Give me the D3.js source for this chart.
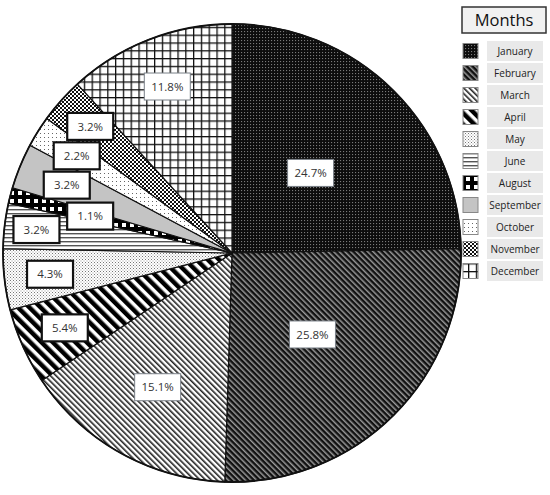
<!DOCTYPE html>
<html>
<head>
<meta charset="utf-8">
<script src="https://cdn.jsdelivr.net/npm/d3@7"></script>
<style>
  html, body { margin: 0; padding: 0; background: #fff; }
  svg { display: block; }
</style>
</head>
<body>
<svg id="chart" width="550" height="495"></svg>
<script>
// ---- data ----
const months = ["January","February","March","April","May","June","August","September","October","November","December"];
const shares = [24.7, 25.8, 15.1, 5.4, 4.3, 3.2, 1.1, 3.2, 2.2, 3.2, 11.8];
const labelTexts = ["24.7%","25.8%","15.1%","5.4%","4.3%","3.2%","1.1%","3.2%","2.2%","3.2%","11.8%"];
const legendTitle = "Months";

// ---- layout config ----
const W = 550, H = 495;
const cx = 232, cy = 253, R = 229;
const labelRadius = [0.49, 0.5, 0.67, 0.8, 0.8, 0.86, 0.64, 0.78, 0.8, 0.83, 0.78];
const thickBorder = [false, false, false, true, true, true, true, true, true, true, false];

const svg = d3.select("#chart");
const defs = svg.append("defs");

function pat(id, w, h, transform) {
  const p = defs.append("pattern").attr("id", id).attr("patternUnits", "userSpaceOnUse")
    .attr("width", w).attr("height", h);
  if (transform) p.attr("patternTransform", transform);
  return p;
}
// January: black with grey dots
let p = pat("p0", 3, 3);
p.append("rect").attr("width", 3).attr("height", 3).attr("fill", "#0d0d0d");
p.append("rect").attr("width", 1.1).attr("height", 1.1).attr("fill", "#7a7a7a");
// February: dark with grey diagonal stripes
p = pat("p1", 4, 4, "rotate(-45)");
p.append("rect").attr("width", 4).attr("height", 4).attr("fill", "#111");
p.append("rect").attr("width", 1.5).attr("height", 4).attr("fill", "#9a9a9a");
// March: white with black diagonal stripes
p = pat("p2", 4, 4, "rotate(-45)");
p.append("rect").attr("width", 4).attr("height", 4).attr("fill", "#fff");
p.append("rect").attr("width", 1.6).attr("height", 4).attr("fill", "#222");
// April: wide black/white diagonal
p = pat("p3", 8, 8, "rotate(-45)");
p.append("rect").attr("width", 8).attr("height", 8).attr("fill", "#fff");
p.append("rect").attr("width", 4.5).attr("height", 8).attr("fill", "#000");
// May: fine grey stipple
p = pat("p4", 3, 3);
p.append("rect").attr("width", 3).attr("height", 3).attr("fill", "#fff");
p.append("rect").attr("width", 1).attr("height", 1).attr("fill", "#777");
p.append("rect").attr("x", 1.5).attr("y", 1.5).attr("width", 1).attr("height", 1).attr("fill", "#999");
// June: horizontal lines
p = pat("p5", 4, 4);
p.append("rect").attr("width", 4).attr("height", 4).attr("fill", "#fff");
p.append("rect").attr("width", 4).attr("height", 1.4).attr("fill", "#555");
// August: black with white squares
p = pat("p6", 8, 8);
p.append("rect").attr("width", 8).attr("height", 8).attr("fill", "#000");
p.append("rect").attr("x", 2).attr("y", 2).attr("width", 4).attr("height", 4).attr("fill", "#fff");
// September: solid light grey
p = pat("p7", 4, 4);
p.append("rect").attr("width", 4).attr("height", 4).attr("fill", "#c4c4c4");
// October: sparse dots
p = pat("p8", 4, 4);
p.append("rect").attr("width", 4).attr("height", 4).attr("fill", "#fff");
p.append("rect").attr("width", 1).attr("height", 1).attr("fill", "#666");
// November: small checker
p = pat("p9", 4, 4);
p.append("rect").attr("width", 4).attr("height", 4).attr("fill", "#111");
p.append("rect").attr("width", 2).attr("height", 2).attr("fill", "#fff");
p.append("rect").attr("x", 2).attr("y", 2).attr("width", 2).attr("height", 2).attr("fill", "#fff");
// December: grid
p = pat("p10", 7.8, 7.8);
p.append("rect").attr("width", 7.8).attr("height", 7.8).attr("fill", "#fff");
p.append("rect").attr("width", 1.3).attr("height", 7.8).attr("fill", "#111");
p.append("rect").attr("width", 7.8).attr("height", 1.3).attr("fill", "#111");

const fills = months.map((m, i) => `url(#p${i})`);

// ---- pie ----
const pie = d3.pie().sort(null).value(d => d)(shares);
const arc = d3.arc().innerRadius(0).outerRadius(R);
const g = svg.append("g").attr("transform", `translate(${cx},${cy})`);

g.selectAll("path.slice").data(pie).join("path")
  .attr("class", "slice")
  .attr("d", arc)
  .attr("fill", (d, i) => fills[i])
  .attr("stroke", "#111")
  .attr("stroke-width", 1.2)
  .attr("stroke-linejoin", "round");

g.append("circle").attr("r", R).attr("fill", "none").attr("stroke", "#111").attr("stroke-width", 1.8);

// ---- labels ----
const lab = g.selectAll("g.lab").data(pie).join("g")
  .attr("class", "lab")
  .attr("transform", (d, i) => {
    const a = d3.arc().innerRadius(R * labelRadius[i]).outerRadius(R * labelRadius[i]);
    const c = a.centroid(d);
    return `translate(${c[0]},${c[1]})`;
  });
lab.append("rect")
  .attr("x", -23).attr("y", -13.5).attr("width", 46).attr("height", 27)
  .attr("fill", "#fff")
  .attr("stroke", (d, i) => thickBorder[i] ? "#111" : "#7a8088")
  .attr("stroke-width", (d, i) => thickBorder[i] ? 2.2 : 1);
lab.append("text")
  .attr("text-anchor", "middle").attr("dy", "0.36em")
  .attr("font-family", "'Open Sans', 'Noto Sans', sans-serif")
  .attr("font-size", 11.5).attr("fill", "#333")
  .text((d, i) => labelTexts[i]);

// ---- legend ----
const lg = svg.append("g");
lg.append("rect").attr("x", 462).attr("y", 7).attr("width", 84).attr("height", 26)
  .attr("fill", "#f1f1f1").attr("stroke", "#333").attr("stroke-width", 1.5);
lg.append("text").attr("x", 504).attr("y", 20).attr("dy", "0.36em")
  .attr("text-anchor", "middle")
  .attr("font-family", "'Open Sans', 'Noto Sans', sans-serif")
  .attr("font-size", 16.5).attr("fill", "#111").text(legendTitle);

const ly = d3.scalePoint().domain(months).range([51, 271]);
const items = lg.selectAll("g.item").data(months).join("g")
  .attr("class", "item")
  .attr("transform", d => `translate(0,${ly(d)})`);
items.append("rect").attr("x", 487).attr("y", -10).attr("width", 56).attr("height", 20)
  .attr("fill", "#e9e9e9");
items.append("rect").attr("x", 463).attr("y", -7.5).attr("width", 15).attr("height", 15)
  .attr("fill", (d, i) => fills[i]).attr("stroke", "#888").attr("stroke-width", 1);
items.append("text").attr("x", 515).attr("dy", "0.36em").attr("text-anchor", "middle")
  .attr("font-family", "'Open Sans', 'Noto Sans', sans-serif")
  .attr("font-size", 10).attr("fill", "#222").text(d => d);
</script>
</body>
</html>
